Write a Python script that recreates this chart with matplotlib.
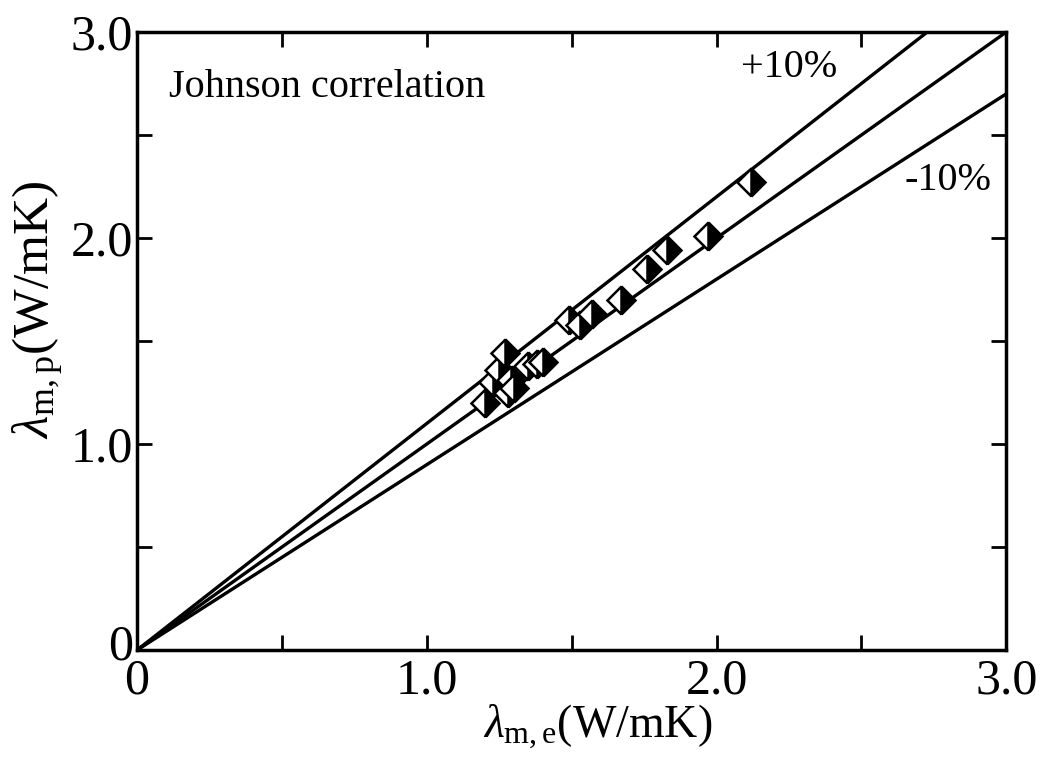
import matplotlib
matplotlib.use("Agg")
import matplotlib.pyplot as plt
import matplotlib.transforms as mtransforms
import numpy as np

plt.rcParams['font.family'] = ['Liberation Serif', 'DejaVu Serif']
plt.rcParams['mathtext.fontset'] = 'custom'
plt.rcParams['mathtext.rm'] = 'Liberation Serif'
plt.rcParams['mathtext.it'] = 'Liberation Serif:italic'

# experimental vs predicted thermal conductivity
lam_exp = [1.20, 1.23, 1.25, 1.27, 1.28, 1.29, 1.30, 1.35, 1.38, 1.40,
           1.49, 1.53, 1.57, 1.67, 1.76, 1.83, 1.97, 2.12]
lam_pred = [1.20, 1.30, 1.36, 1.44, 1.25, 1.31, 1.27, 1.38, 1.39, 1.40,
            1.60, 1.58, 1.63, 1.70, 1.85, 1.94, 2.01, 2.27]

ratios = [1.0, 1.1, 0.9]
line_x = [0.0, 3.0]

fig = plt.figure(figsize=(10.46, 7.63), dpi=100)
ax = fig.add_axes([0.131, 0.148, 0.831, 0.810])

for r in ratios:
    ax.plot(line_x, [r * v for v in line_x], color='black', lw=2.4, zorder=1)

ax.plot(lam_exp, lam_pred, linestyle='none', marker='D', markersize=14,
        fillstyle='right', markerfacecolor='black', markerfacecoloralt='white',
        markeredgecolor='black', markeredgewidth=1.8, zorder=3)

ax.set_xlim(0, 3.0)
ax.set_ylim(0, 3.0)
ax.set_xticks([0, 1.0, 2.0, 3.0])
ax.set_yticks([0, 1.0, 2.0, 3.0])
ax.set_xticklabels(['0', '1.0', '2.0', '3.0'])
ax.set_yticklabels(['0', '1.0', '2.0', '3.0'])
ax.set_xticks([0.5, 1.5, 2.5], minor=True)
ax.set_yticks([0.5, 1.5, 2.5], minor=True)
ax.tick_params(which='both', direction='in', top=True, right=True,
               length=11, width=2, labelsize=36)
ax.tick_params(axis='x', pad=6)
ax.tick_params(axis='y', pad=3)
for s in ax.spines.values():
    s.set_linewidth(2.5)

# nudge the corner "0" on the y axis up a little, as in the reference
ylab0 = ax.get_yticklabels()[0]
ylab0.set_transform(ylab0.get_transform() +
                    mtransforms.ScaledTranslation(0, 6 / 72, fig.dpi_scale_trans))

ax.set_xlabel(r'$\lambda_{\rm m,e}$(W/mK)', fontsize=33)
ax.set_ylabel(r'$\lambda_{\rm m,p}$(W/mK)', fontsize=37)
ax.xaxis.set_label_coords(0.53, -0.085)
ax.yaxis.set_label_coords(-0.082, 0.55)

ax.text(0.11, 2.73, 'Johnson correlation', fontsize=29, ha='left', va='center')
ax.text(2.25, 2.83, '+10%', fontsize=29, ha='center', va='center')
ax.text(2.80, 2.28, '-10%', fontsize=29, ha='center', va='center')

fig.savefig('out.png', dpi=100)
